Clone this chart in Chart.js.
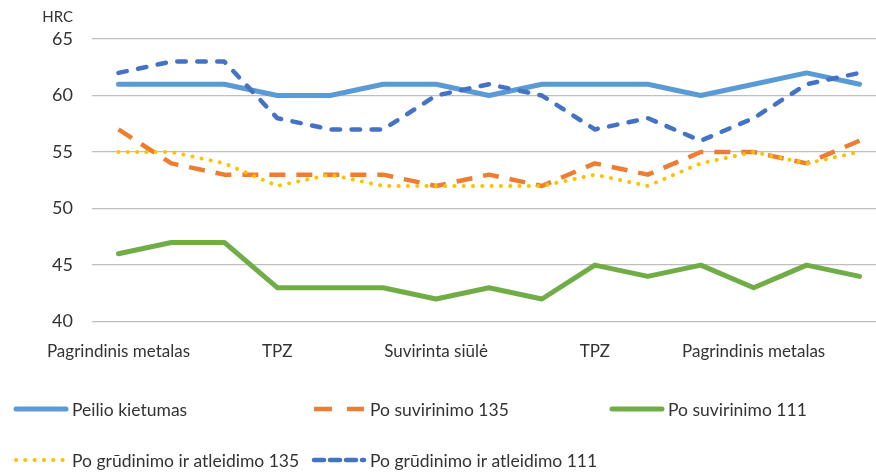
<!DOCTYPE html>
<html>
<head>
<meta charset="utf-8">
<script src="https://cdn.jsdelivr.net/npm/chart.js@4"></script>
<style>
  html, body { margin: 0; padding: 0; overflow: hidden; background: #fff; }
  #wrap { width: 886px; height: 472px; }
</style>
</head>
<body>
<div id="wrap"><canvas id="chartHRC" width="886" height="472"></canvas></div>
<script>
const kategorijos = ['Pagrindinis metalas', '', '', 'TPZ', '', '', 'Suvirinta siūlė', '', '', 'TPZ', '', '', 'Pagrindinis metalas', '', ''];
const peilioKietumas = [61, 61, 61, 60, 60, 61, 61, 60, 61, 61, 61, 60, 61, 62, 61];
const poSuvirinimo135 = [57, 54, 53, 53, 53, 53, 52, 53, 52, 54, 53, 55, 55, 54, 56];
const poSuvirinimo111 = [46, 47, 47, 43, 43, 43, 42, 43, 42, 45, 44, 45, 43, 45, 44];
const poGrudinimo135 = [55, 55, 54, 52, 53, 52, 52, 52, 52, 53, 52, 54, 55, 54, 55];
const poGrudinimo111 = [62, 63, 63, 58, 57, 57, 60, 61, 60, 57, 58, 56, 58, 61, 62];
const yMin = 40, yMax = 65, yZingsnis = 5;

const tekstoSpalva = '#333333';
const sriftas = 'Lato, "Open Sans", sans-serif';

// legenda tinkleliu, kaip Excel'yje (3 stulpeliai)
const legendaTinklelis = {
  id: 'legendaTinklelis',
  afterDraw(chart) {
    const ctx = chart.ctx;
    ctx.save();
    ctx.font = '17.5px ' + sriftas;
    ctx.textBaseline = 'middle';
    ctx.fillStyle = tekstoSpalva;
    chart.data.datasets.forEach((ds, i) => {
      const x = 14 + (i % 3) * 298;
      const y = 409 + Math.floor(i / 3) * 51;
      ctx.beginPath();
      ctx.strokeStyle = ds.borderColor;
      ctx.lineWidth = ds.borderWidth;
      ctx.setLineDash(ds.legendDash || ds.borderDash || []);
      ctx.lineCap = ds.borderCapStyle || 'butt';
      ctx.moveTo(x + 2, y);
      ctx.lineTo(x + 52, y);
      ctx.stroke();
      ctx.setLineDash([]);
      ctx.fillText(ds.label, x + 58, y + 1);
    });
    ctx.restore();
  }
};

// "HRC" virs Y asies
const asiesPavadinimas = {
  id: 'asiesPavadinimas',
  afterDraw(chart) {
    const ctx = chart.ctx;
    const y = chart.scales.y;
    ctx.save();
    ctx.font = '15px ' + sriftas;
    ctx.fillStyle = tekstoSpalva;
    ctx.textAlign = 'right';
    ctx.textBaseline = 'middle';
    ctx.fillText('HRC', y.right - 19, y.top - 22);
    ctx.restore();
  }
};

const ctx = document.getElementById('chartHRC').getContext('2d');

new Chart(ctx, {
  type: 'line',
  data: {
    labels: kategorijos,
    datasets: [
      {
        label: 'Peilio kietumas',
        data: peilioKietumas,
        borderColor: '#5B9BD5',
        borderWidth: 5,
        borderCapStyle: 'round',
        order: 5
      },
      {
        label: 'Po suvirinimo 135',
        data: poSuvirinimo135,
        borderColor: '#ED7D31',
        borderWidth: 4.5,
        borderDash: [16, 11],
        legendDash: [18, 15],
        order: 4
      },
      {
        label: 'Po suvirinimo 111',
        data: poSuvirinimo111,
        borderColor: '#70AD47',
        borderWidth: 5,
        borderCapStyle: 'round',
        order: 3
      },
      {
        label: 'Po grūdinimo ir atleidimo 135',
        data: poGrudinimo135,
        borderColor: '#FFC000',
        borderWidth: 4,
        borderDash: [0.1, 9.2],
        borderCapStyle: 'round',
        order: 2
      },
      {
        label: 'Po grūdinimo ir atleidimo 111',
        data: poGrudinimo111,
        borderColor: '#4472C4',
        borderWidth: 4.5,
        borderDash: [8.5, 11.5],
        legendDash: [10, 6],
        borderCapStyle: 'round',
        order: 1
      }
    ]
  },
  options: {
    responsive: false,
    animation: false,
    layout: {
      padding: { top: 39, right: 0, bottom: 98, left: 0 }
    },
    elements: {
      point: { radius: 0, hoverRadius: 0 },
      line: { tension: 0, borderJoinStyle: 'round' }
    },
    scales: {
      x: {
        offset: true,
        grid: { display: false },
        border: { display: false },
        ticks: {
          autoSkip: false,
          maxRotation: 0,
          padding: 12,
          color: tekstoSpalva,
          font: { family: sriftas, size: 17 }
        }
      },
      y: {
        min: yMin,
        max: yMax,
        afterFit: function(scale) { scale.width = 92; },
        grid: { color: '#bfbfbf', lineWidth: 1.3, drawTicks: false },
        border: { display: false },
        ticks: {
          stepSize: yZingsnis,
          padding: 19,
          color: tekstoSpalva,
          font: { family: sriftas, size: 18 }
        }
      }
    },
    plugins: {
      legend: { display: false },
      tooltip: { enabled: false }
    }
  },
  plugins: [legendaTinklelis, asiesPavadinimas]
});
</script>
</body>
</html>
